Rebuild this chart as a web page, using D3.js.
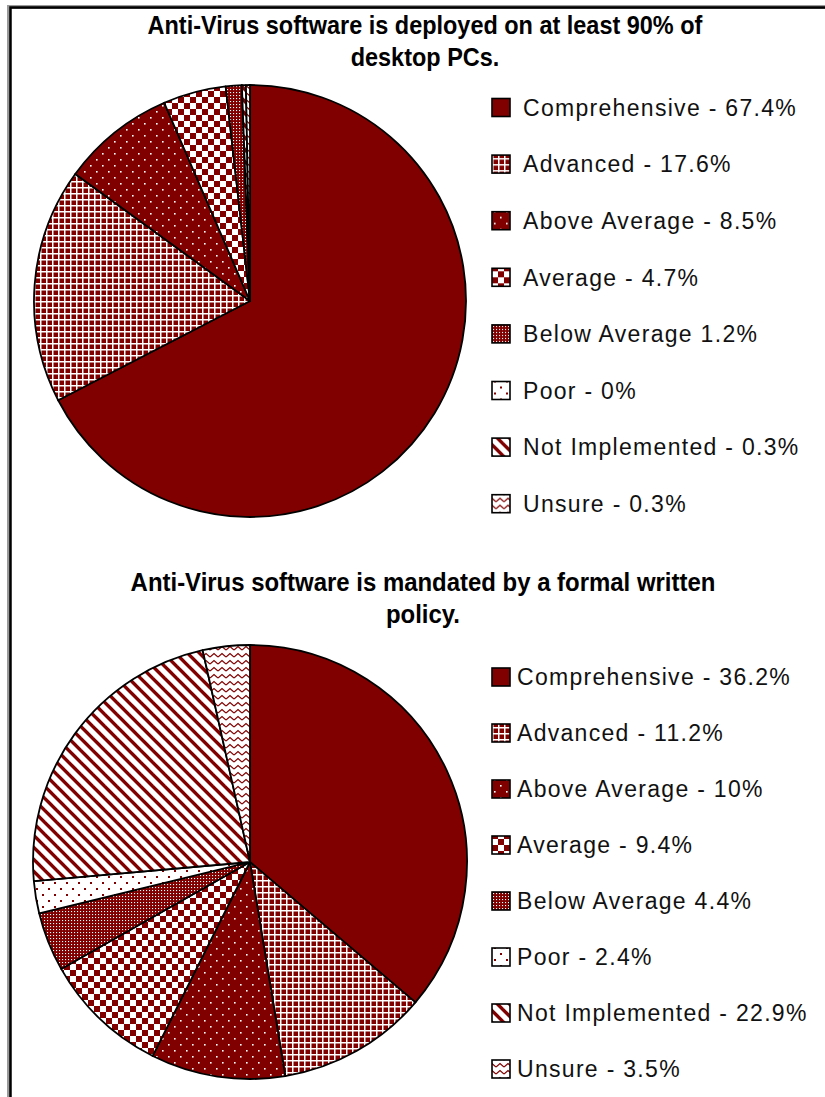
<!DOCTYPE html>
<html>
<head>
<meta charset="utf-8">
<script src="https://cdn.jsdelivr.net/npm/d3@7"></script>
<style>
  body { margin: 0; background: #fff; }
  svg { display: block; }
</style>
</head>
<body>
<svg id="chart" width="825" height="1097"></svg>
<script>
// Survey categories, shared by both pies
const categories = ["Comprehensive", "Advanced", "Above Average", "Average",
                    "Below Average", "Poor", "Not Implemented", "Unsure"];

// Share of respondents (%) per category
const deployedValues = [67.4, 17.6, 8.5, 4.7, 1.2, 0, 0.3, 0.3];
const mandatedValues = [36.2, 11.2, 10, 9.4, 4.4, 2.4, 22.9, 3.5];

// Chart titles, one array of lines per pie
const deployedTitle = ["Anti-Virus software is deployed on at least 90% of", "desktop PCs."];
const mandatedTitle = ["Anti-Virus software is mandated by a formal written", "policy."];

// Fill pattern id for each category
const patternIds = ["p-solid", "p-grid", "p-dots-dark", "p-checker",
                    "p-fine", "p-dots-light", "p-diag", "p-zigzag"];

const RED = "#800000";
const svg = d3.select("#chart");
const defs = svg.append("defs");

function pattern(id, w, h) {
  return defs.append("pattern").attr("id", id)
    .attr("patternUnits", "userSpaceOnUse")
    .attr("width", w).attr("height", h);
}

// Solid
pattern("p-solid", 4, 4).append("rect").attr("width", 4).attr("height", 4).attr("fill", RED);

// Small grid: red cells, thin white lines
{
  const p = pattern("p-grid", 6, 6);
  p.append("rect").attr("width", 6).attr("height", 6).attr("fill", RED);
  p.append("rect").attr("width", 6).attr("height", 1.5).attr("fill", "#fff");
  p.append("rect").attr("width", 1.5).attr("height", 6).attr("fill", "#fff");
}
// Red with sparse white dots
{
  const p = pattern("p-dots-dark", 12, 12);
  p.append("rect").attr("width", 12).attr("height", 12).attr("fill", RED);
  p.append("rect").attr("x", 2).attr("y", 2).attr("width", 1.6).attr("height", 1.6).attr("fill", "#fff");
  p.append("rect").attr("x", 8).attr("y", 8).attr("width", 1.6).attr("height", 1.6).attr("fill", "#fff");
}
// Large checkerboard
{
  const p = pattern("p-checker", 12, 12);
  p.append("rect").attr("width", 12).attr("height", 12).attr("fill", "#fff");
  p.append("rect").attr("width", 6).attr("height", 6).attr("fill", RED);
  p.append("rect").attr("x", 6).attr("y", 6).attr("width", 6).attr("height", 6).attr("fill", RED);
}
// Red with dense fine white dots
{
  const p = pattern("p-fine", 3, 3);
  p.append("rect").attr("width", 3).attr("height", 3).attr("fill", RED);
  p.append("rect").attr("x", 1).attr("y", 1).attr("width", 1.1).attr("height", 1.1).attr("fill", "#fff");
}
// White with sparse red dots
{
  const p = pattern("p-dots-light", 12, 12);
  p.append("rect").attr("width", 12).attr("height", 12).attr("fill", "#fff");
  p.append("rect").attr("x", 2).attr("y", 2).attr("width", 2).attr("height", 2).attr("fill", RED);
  p.append("rect").attr("x", 8).attr("y", 8).attr("width", 2).attr("height", 2).attr("fill", RED);
}
// Wide downward diagonal stripes
{
  const s = 12, w = 4.8;
  const p = pattern("p-diag", s, s);
  p.append("rect").attr("width", s).attr("height", s).attr("fill", "#fff");
  p.append("polygon").attr("points", `0,0 ${w},0 ${s},${s - w} ${s},${s}`).attr("fill", RED);
  p.append("polygon").attr("points", `0,${s - w} ${w},${s} 0,${s}`).attr("fill", RED);
}
// Zigzag lines
{
  const p = pattern("p-zigzag", 8, 7);
  p.append("rect").attr("width", 8).attr("height", 7).attr("fill", "#fff");
  p.append("polyline").attr("points", "0,5 4,1.5 8,5")
    .attr("fill", "none").attr("stroke", RED).attr("stroke-width", 1.2);
}

// Frame lines along the top and the left
svg.append("path").attr("d", "M9,1097 V7 H825")
  .attr("fill", "none").attr("stroke", "#9a9a9a").attr("stroke-width", 4);
svg.append("path").attr("d", "M10.5,1097 V7.5 H825")
  .attr("fill", "none").attr("stroke", "#000").attr("stroke-width", 2.5);

function labelFor(cat, v) {
  return cat + (cat === "Below Average" ? " " : " - ") + v + "%";
}

function drawPanel(cfg) {
  const g = svg.append("g");

  // Title: bold condensed lines, centred
  const tg = g.append("g");
  const lines = cfg.title.map(t => tg.append("text")
    .attr("text-anchor", "middle")
    .attr("font-family", "'Liberation Sans Narrow', 'Liberation Sans', Arial, sans-serif")
    .attr("font-weight", "bold")
    .attr("font-size", 25)
    .attr("fill", "#000")
    .attr("dy", "0.35em")
    .text(t));
  const natural = lines[0].node().getComputedTextLength();
  const sx = cfg.titleWidth / natural;
  lines.forEach((l, i) => l.attr("transform", `translate(${cfg.titleX},${cfg.titleY[i]}) scale(${sx},1)`));

  // Pie
  const pie = d3.pie().sort(null).value(d => d)(cfg.values);
  const arc = d3.arc().innerRadius(0).outerRadius(cfg.r);
  g.append("g").attr("transform", `translate(${cfg.cx},${cfg.cy})`)
    .selectAll("path").data(pie).join("path")
    .attr("d", arc)
    .attr("fill", (d, i) => `url(#${patternIds[i]})`)
    .attr("stroke", "#000")
    .attr("stroke-width", 1.8)
    .attr("stroke-linejoin", "round");

  // Legend
  const y = d3.scalePoint().domain(categories)
    .range([cfg.legendY0, cfg.legendY0 + cfg.legendStep * (categories.length - 1)]);
  const items = g.append("g").selectAll("g").data(categories).join("g")
    .attr("transform", d => `translate(0,${y(d)})`);
  items.append("rect")
    .attr("x", cfg.swatchX).attr("y", -9)
    .attr("width", 18).attr("height", 18)
    .attr("fill", (d, i) => `url(#${patternIds[i]})`)
    .attr("stroke", "#000").attr("stroke-width", 1.6);
  items.append("text")
    .attr("x", cfg.textX).attr("dy", "0.36em")
    .attr("font-family", "'Liberation Sans', Arial, sans-serif")
    .attr("font-size", 23)
    .attr("letter-spacing", "1.3px")
    .attr("fill", "#111")
    .text((d, i) => labelFor(d, cfg.values[i]));
}

drawPanel({
  title: deployedTitle, titleX: 425, titleY: [25, 57], titleWidth: 555,
  values: deployedValues, cx: 250, cy: 301, r: 216,
  swatchX: 492, textX: 523, legendY0: 107.5, legendStep: 56.6
});
drawPanel({
  title: mandatedTitle, titleX: 423, titleY: [582, 614], titleWidth: 585,
  values: mandatedValues, cx: 250, cy: 862, r: 217,
  swatchX: 492, textX: 517, legendY0: 677, legendStep: 56
});
</script>
</body>
</html>
